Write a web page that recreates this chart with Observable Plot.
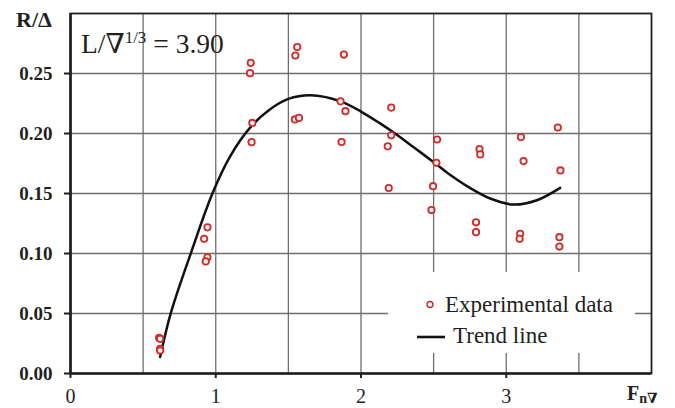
<!DOCTYPE html>
<html>
<head>
<meta charset="utf-8">
<script src="https://cdn.jsdelivr.net/npm/d3@7"></script>
<script src="https://cdn.jsdelivr.net/npm/@observablehq/plot@0.6"></script>
<style>
  html, body { margin: 0; padding: 0; background: #fff; }
  #wrap { position: relative; width: 675px; height: 408px; overflow: hidden; }
</style>
</head>
<body>
<div id="wrap"></div>
<script>
// Experimental data: Froude number F_n∇ and R/Δ
const fnv = [0.610, 0.617, 0.617, 0.617,
             0.943, 0.920, 0.943, 0.931,
             1.241, 1.236, 1.252, 1.247,
             1.561, 1.548, 1.545, 1.573,
             1.882, 1.859, 1.893, 1.866,
             2.208, 2.208, 2.184, 2.191,
             2.524, 2.519, 2.496, 2.485,
             2.816, 2.821, 2.792, 2.792,
             3.101, 3.119, 3.096, 3.092,
             3.355, 3.373, 3.366, 3.366];
const rd  = [0.0297, 0.0289, 0.0206, 0.0192,
             0.1218, 0.1122, 0.0968, 0.0934,
             0.2589, 0.2503, 0.2088, 0.1928,
             0.2720, 0.2650, 0.2117, 0.2130,
             0.2658, 0.2268, 0.2186, 0.1929,
             0.2216, 0.1985, 0.1893, 0.1546,
             0.1950, 0.1756, 0.1561, 0.1362,
             0.1871, 0.1826, 0.1260, 0.1178,
             0.1970, 0.1770, 0.1164, 0.1122,
             0.2050, 0.1692, 0.1136, 0.1058];
// Trend line
const trendX = [0.617, 0.691, 0.828, 0.977, 1.100, 1.241, 1.370, 1.500, 1.653, 1.859, 2.000, 2.134, 2.249, 2.363, 2.494, 2.615, 2.753, 2.890, 3.050, 3.211, 3.371];
const trendY = [0.0138, 0.0505, 0.1000, 0.1500, 0.1812, 0.2055, 0.2198, 0.2288, 0.2318, 0.2268, 0.2183, 0.2082, 0.1988, 0.1885, 0.1767, 0.1655, 0.1545, 0.1458, 0.1408, 0.1444, 0.1547];
// Axis ticks
const xTicks = [0, 1, 2, 3];
const xGrid = [0.5, 1, 1.5, 2, 2.5, 3, 3.5];
const yTicks = [0, 0.05, 0.10, 0.15, 0.20, 0.25];
const yGrid = [0.05, 0.10, 0.15, 0.20, 0.25];

const points = fnv.map((x, i) => ({x, y: rd[i]}));
const trend = trendX.map((x, i) => ({x, y: trendY[i]}));

const serif = "'Liberation Serif', 'Times New Roman', 'DejaVu Serif', serif";

const chart = Plot.plot({
  width: 675,
  height: 408,
  marginLeft: 70,
  marginRight: 24,
  marginTop: 13,
  marginBottom: 35,
  style: {fontFamily: serif, background: "#fff", color: "#231f20"},
  x: {domain: [0, 4]},
  y: {domain: [0, 0.30]},
  marks: [
    Plot.gridX(xGrid, {stroke: "#6e6e6e", strokeOpacity: 1, strokeWidth: 1.3}),
    Plot.gridY(yGrid, {stroke: "#6e6e6e", strokeOpacity: 1, strokeWidth: 1.3}),
    Plot.frame({stroke: "#231f20", strokeWidth: 1.8}),
    Plot.axisY({ticks: yTicks, tickSize: 6, tickPadding: 12, tickFormat: d3.format(".2f"),
                fontSize: 19, fontWeight: "bold", label: null, strokeWidth: 2}),
    Plot.axisX({ticks: xTicks, tickSize: 5, tickPadding: 10, tickFormat: d3.format("d"),
                fontSize: 20, label: null, strokeWidth: 2}),
    Plot.ruleX([0], {stroke: "#231f20", strokeWidth: 2.6}),
    Plot.ruleY([0], {stroke: "#231f20", strokeWidth: 2.6}),
    Plot.line(trend, {x: "x", y: "y", curve: "catmull-rom", stroke: "#111", strokeWidth: 2.5}),
    Plot.dot(points, {x: "x", y: "y", r: 3.2, stroke: "#cc2f29", strokeWidth: 1.8, fill: "#e6eef6"})
  ]
});

const wrap = document.getElementById("wrap");
wrap.appendChild(chart);

const svg = d3.select(chart);

// Legend box (white background over grid)
const lg = svg.append("g").attr("text-anchor", "start");
lg.append("rect").attr("x", 388).attr("y", 272).attr("width", 247).attr("height", 81).attr("fill", "#fff");
lg.append("circle").attr("cx", 430).attr("cy", 304.5).attr("r", 3).attr("fill", "#e6eef6")
  .attr("stroke", "#cc2f29").attr("stroke-width", 1.4);
lg.append("text").attr("x", 445).attr("y", 312).attr("font-size", 23).attr("font-family", serif)
  .attr("fill", "#231f20").text("Experimental data");
lg.append("line").attr("x1", 417).attr("x2", 445).attr("y1", 337).attr("y2", 337)
  .attr("stroke", "#111").attr("stroke-width", 2.6);
lg.append("text").attr("x", 453).attr("y", 343).attr("font-size", 23).attr("font-family", serif)
  .attr("fill", "#231f20").text("Trend line");

const ann = svg.append("g").attr("text-anchor", "start").attr("fill", "#231f20");

// Y axis title
ann.append("text").attr("x", 16).attr("y", 27).attr("font-size", 22).attr("font-weight", "bold")
  .attr("font-family", serif).text("R/Δ");

// X axis title
const xt = ann.append("text").attr("x", 627).attr("y", 400).attr("font-family", serif)
  .attr("font-weight", "bold");
xt.append("tspan").attr("font-size", 20).text("F");
xt.append("tspan").attr("font-size", 14).attr("dy", 3).text("n∇");

// Annotation
const an = ann.append("text").attr("x", 81).attr("y", 53).attr("font-family", serif)
  .attr("font-size", 27.5);
an.append("tspan").text("L/∇");
an.append("tspan").attr("font-size", 17).attr("dy", -10).text("1/3");
an.append("tspan").attr("dy", 10).text(" = 3.90");
</script>
</body>
</html>
